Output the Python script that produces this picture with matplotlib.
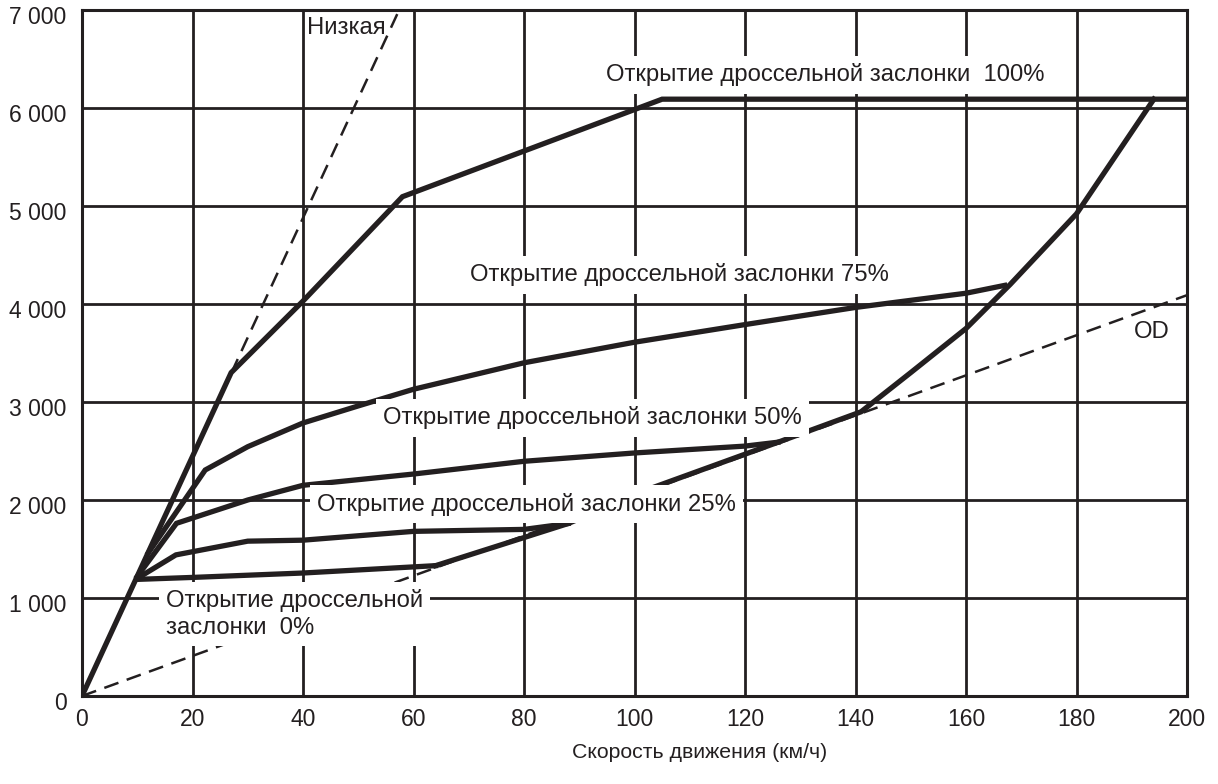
import matplotlib.pyplot as plt
import matplotlib.transforms as mtransforms

plt.rcParams["font.family"] = ["Liberation Sans", "DejaVu Sans"]

INK = "#231f20"

# speed (km/h) vs engine speed
x_ticks = list(range(0, 201, 20))
y_ticks = list(range(0, 7001, 1000))

full_x = [0, 27, 40, 58, 105, 200]  # 100 %
full_y = [0, 3300, 4030, 5095, 6090, 6090]
t75_x = [12, 22.3, 30, 40, 50, 60, 80, 100, 120, 140, 160, 167]
t75_y = [1460, 2306, 2544, 2786, 2960, 3130, 3400, 3610, 3790, 3965, 4110, 4190]
t50_x = [10, 17.1, 30, 40, 60, 80, 100, 120, 126]
t50_y = [1220, 1762, 2000, 2150, 2265, 2395, 2480, 2550, 2590]
t25_x = [10, 17, 30, 40, 60, 80, 88]
t25_y = [1200, 1440, 1580, 1590, 1680, 1700, 1760]
t0_x = [10, 20, 40, 64]
t0_y = [1190, 1210, 1255, 1330]
shift_x = [64, 88, 103, 126, 141, 150, 160, 168, 180, 194]
shift_y = [1330, 1760, 2120, 2590, 2900, 3300, 3750, 4200, 4920, 6090]

low_x = [0, 57.4]  # "Низкая"
low_y = [0, 7000]
od_x = [0, 200]
od_y = [0, 4090]

fig = plt.figure(figsize=(12.18, 7.84), dpi=100)
ax = fig.add_axes([82 / 1218, 1 - 696 / 784, 1105 / 1218, 686 / 784])

ax.set_xlim(0, 200)
ax.set_ylim(0, 7000)
ax.set_xticks(x_ticks)
ax.set_yticks(y_ticks)
ax.set_yticklabels([f"{v:,}".replace(",", " ") for v in y_ticks])
ax.tick_params(length=0, labelsize=16.5, colors=INK, pad=11)
ax.tick_params(axis="x", pad=9)
ax.grid(True, color=INK, lw=2, zorder=1)
ax.set_axisbelow(True)
for s in ax.spines.values():
    s.set_color(INK)
    s.set_linewidth(2.2)

# y labels sit a little below their lines
off = mtransforms.ScaledTranslation(0, -0.05, fig.dpi_scale_trans)
for lab in ax.get_yticklabels():
    lab.set_transform(lab.get_transform() + off)

dash = dict(color=INK, lw=1.8, dashes=(6, 3.5), zorder=2)
ax.plot(low_x, low_y, **dash)
ax.plot(od_x, od_y, **dash)

solid = dict(color=INK, lw=3.8, solid_joinstyle="miter", zorder=3)
for xs, ys in [(full_x, full_y), (t75_x, t75_y), (t50_x, t50_y),
               (t25_x, t25_y), (t0_x, t0_y), (shift_x, shift_y)]:
    ax.plot(xs, ys, **solid)

box = dict(boxstyle="square,pad=0.3", fc="white", ec="none")
txt = dict(fontsize=17.2, color=INK, zorder=4)
ax.text(134.5, 6337, "Открытие дроссельной заслонки  100%", ha="center", va="center", bbox=box, **txt)
ax.text(108.1, 4296, "Открытие дроссельной заслонки 75%", ha="center", va="center", bbox=box, **txt)
ax.text(92.4, 2837, "Открытие дроссельной заслонки 50%", ha="center", va="center", bbox=box, **txt)
ax.text(80.5, 1959, "Открытие дроссельной заслонки 25%", ha="center", va="center", bbox=box, **txt)
ax.text(15.2, 837, "Открытие дроссельной\nзаслонки  0%", ha="left", va="center",
        linespacing=1.3, bbox=box, **txt)
ax.text(40.7, 6816, "Низкая", ha="left", va="center", **txt)
ax.text(193.6, 3717, "OD", ha="center", va="center", **txt)

fig.text(700 / 1218, 1 - 752 / 784, "Скорость движения (км/ч)", ha="center", va="center",
         fontsize=15.3, color=INK)

fig.savefig("out.png", dpi=100)
